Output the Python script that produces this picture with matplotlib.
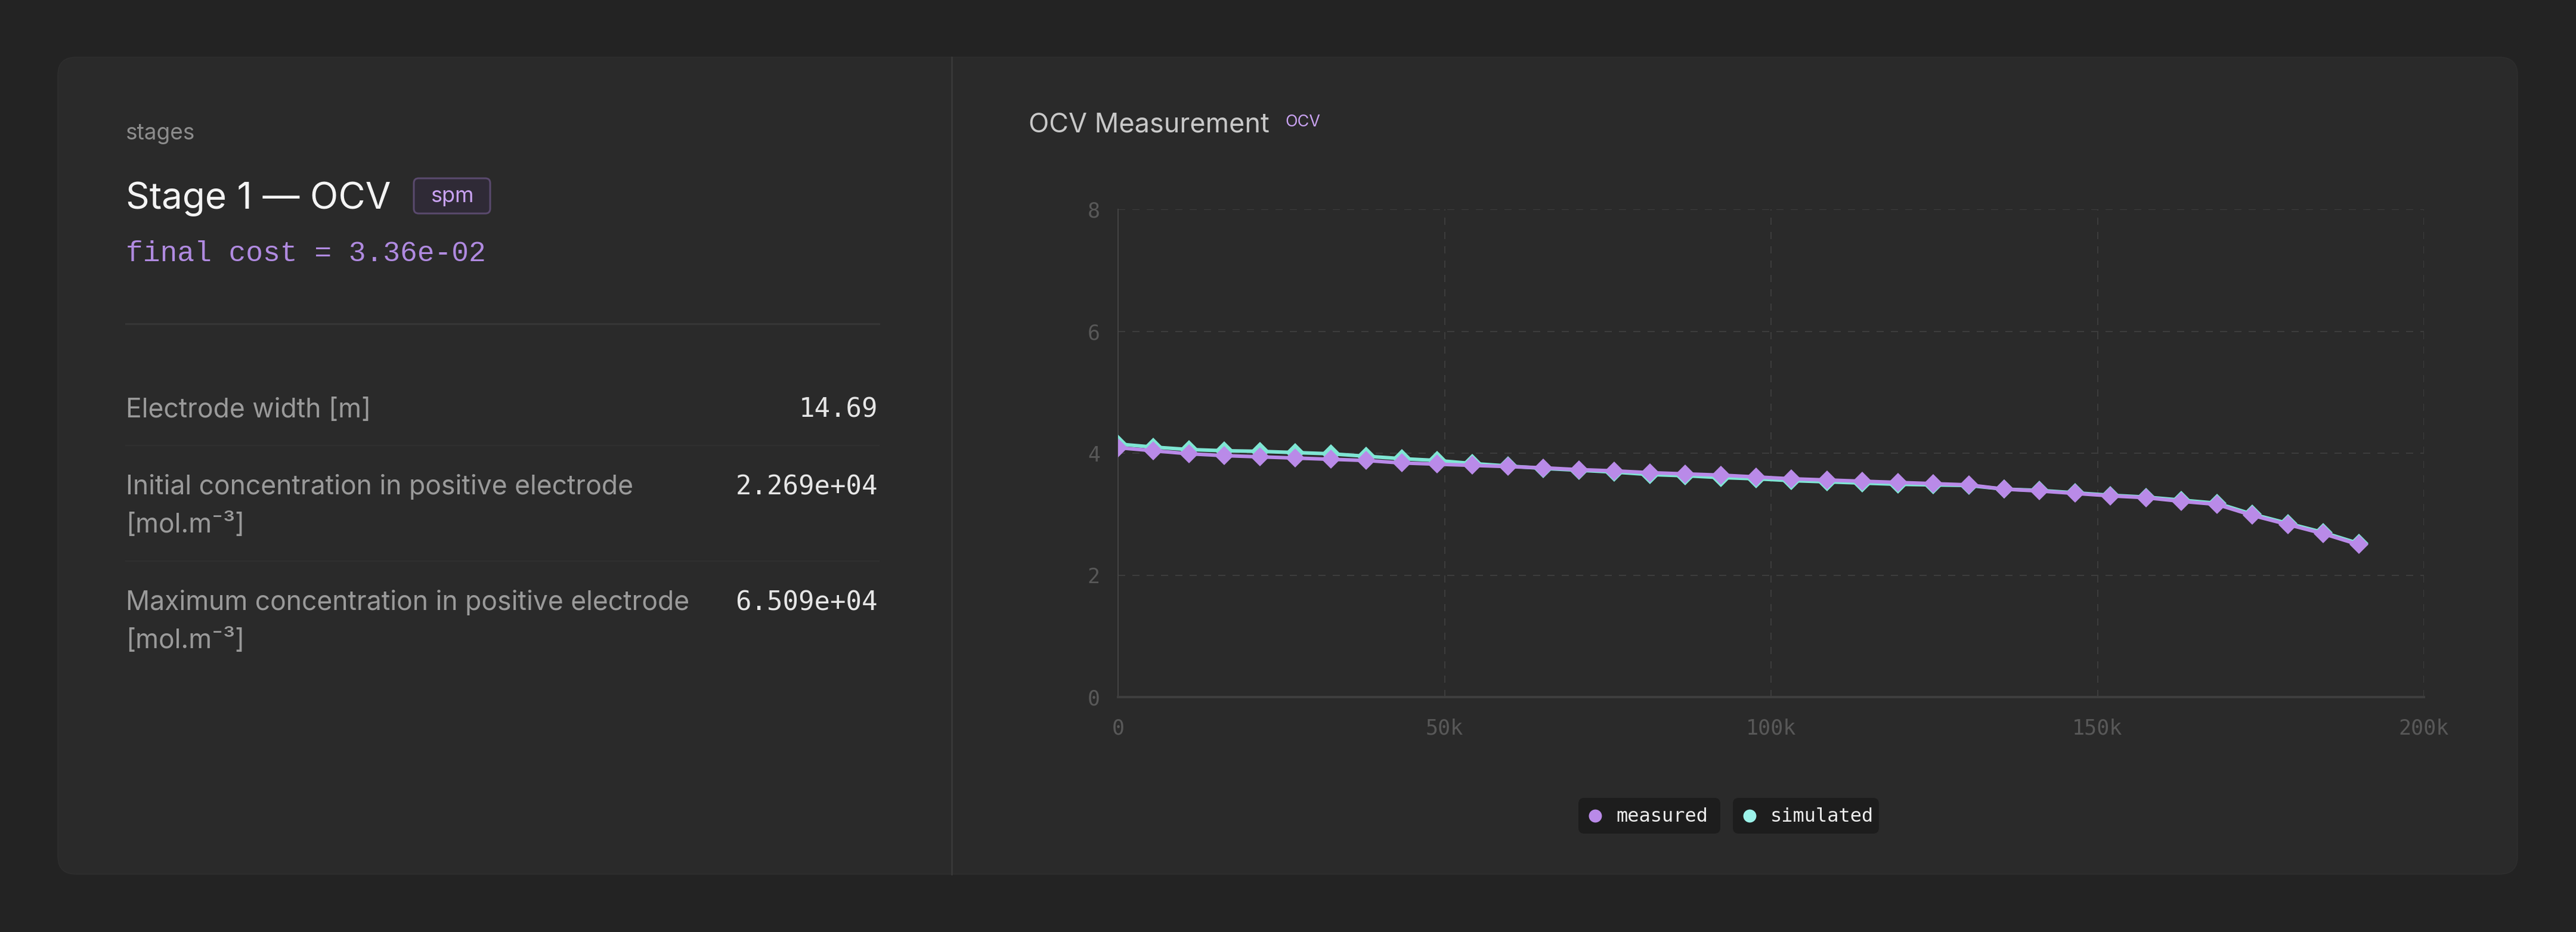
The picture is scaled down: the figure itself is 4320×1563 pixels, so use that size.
import matplotlib
matplotlib.use("Agg")
from matplotlib import pyplot as plt
from matplotlib.patches import FancyBboxPatch

# OCV curve (time in s, voltage in V)
time_s = [0, 5430, 10860, 16290, 21710, 27140, 32570, 38000, 43430, 48860,
          54290, 59710, 65140, 70570, 76000, 81430, 86860, 92290, 97710, 103140,
          108570, 114000, 119430, 124860, 130290, 135710, 141140, 146570, 152000,
          157430, 162860, 168290, 173710, 179140, 184570, 190000]
measured = [4.09, 4.04, 3.99, 3.96, 3.94, 3.92, 3.90, 3.88, 3.84, 3.82,
            3.80, 3.78, 3.76, 3.73, 3.71, 3.68, 3.66, 3.64, 3.61, 3.58,
            3.56, 3.54, 3.52, 3.50, 3.48, 3.41, 3.38, 3.34, 3.30, 3.27,
            3.21, 3.16, 2.98, 2.83, 2.68, 2.50]
simulated = [4.15, 4.10, 4.06, 4.04, 4.03, 4.01, 3.99, 3.95, 3.91, 3.88,
             3.83, 3.79, 3.75, 3.72, 3.69, 3.65, 3.63, 3.60, 3.58, 3.55,
             3.53, 3.51, 3.49, 3.48, 3.47, 3.41, 3.39, 3.35, 3.31, 3.28,
             3.23, 3.18, 3.00, 2.85, 2.70, 2.52]

x_ticks = [0, 50000, 100000, 150000, 200000]
x_ticklabels = ["0", "50k", "100k", "150k", "200k"]
y_ticks = [0, 2, 4, 6, 8]

params = ["Electrode width [m]",
          "Initial concentration in positive electrode\n[mol.m\u207b\u00b3]",
          "Maximum concentration in positive electrode\n[mol.m\u207b\u00b3]"]
param_values = ["14.69", "2.269e+04", "6.509e+04"]

PURPLE = "#b98ae8"
TEAL = "#7fe6d4"
W, H = 4320, 1563
SANS = ["Inter", "DejaVu Sans"]
MONO = "DejaVu Sans Mono"

fig = plt.figure(figsize=(W / 72, H / 72), dpi=72)
fig.patch.set_facecolor("#232323")

# background layer in pixel coords (y down)
bg = fig.add_axes([0, 0, 1, 1])
bg.set_xlim(0, W)
bg.set_ylim(H, 0)
bg.axis("off")

card = FancyBboxPatch((97, 96), 4222 - 97, 1466 - 96,
                      boxstyle="round,pad=0,rounding_size=30",
                      fc="#2a2a2a", ec="#2e2e2e", lw=1.5)
bg.add_patch(card)
bg.plot([1596, 1596], [96, 1466], color="#373737", lw=3)

# left panel
bg.text(211, 234, "stages", color="#8c8c8c", fontsize=37, family=SANS)
bg.text(211, 350, "Stage 1 \u2014 OCV", color="#f4f4f4", fontsize=62, family=SANS)
bg.add_patch(FancyBboxPatch((694, 299), 128, 59, boxstyle="round,pad=0,rounding_size=8",
                            fc="#2f2a36", ec="#5a4a6e", lw=3))
bg.text(758, 330, "spm", color="#c9a2f2", fontsize=36, family=SANS, ha="center", va="center")
bg.text(211, 438, "final cost = 3.36e-02", color="#b08ae0", fontsize=48,
        family="Liberation Mono")
bg.plot([211, 1474], [543, 543], color="#363636", lw=3)

row_y = [700, 829, 1023]
for i, (label, val) in enumerate(zip(params, param_values)):
    lines = label.split("\n")
    for j, ln in enumerate(lines):
        bg.text(211, row_y[i] + j * 64, ln, color="#9a9a9a", fontsize=44.5, family=SANS)
    bg.text(1472, row_y[i], val, color="#e6e6e6", fontsize=44, family=MONO, ha="right")
for y in [747, 941]:
    bg.plot([211, 1474], [y, y], color="#2f2f2f", lw=2)

# chart title
bg.text(1725, 221, "OCV Measurement", color="#c8c8c8", fontsize=45, family=SANS)
bg.text(2155, 212, "OCV", color="#c9a2f2", fontsize=27, family=SANS)

# legend chips
chips = [(2647, 2885, PURPLE, "measured"), (2906, 3151, "#9cf3ea", "simulated")]
for x0, x1, col, lab in chips:
    bg.add_patch(FancyBboxPatch((x0, 1338), x1 - x0, 60, boxstyle="round,pad=0,rounding_size=10",
                                fc="#1d1d1d", ec="none"))
    bg.scatter([x0 + 28], [1368], s=480, color=col, lw=0)
    bg.text(x0 + 63, 1369, lab, color="#ececec", fontsize=32, family=MONO, va="center")

# chart
ax = fig.add_axes([1875 / W, (H - 1169) / H, 2190 / W, (1169 - 351) / H])
ax.set_facecolor("none")
ax.plot(time_s, simulated, color=TEAL, lw=6, marker="D", ms=22, mew=0, zorder=3)
ax.plot(time_s, measured, color=PURPLE, lw=6, marker="D", ms=22, mew=0, zorder=4)
ax.set_xlim(0, 200000)
ax.set_ylim(0, 8)
ax.set_xticks(x_ticks)
ax.set_xticklabels(x_ticklabels)
ax.set_yticks(y_ticks)
ax.grid(True, color="#3c3c3c", lw=2, ls=(0, (6, 6)))
ax.tick_params(length=0, pad=30, labelsize=35, labelcolor="#585858")
ax.tick_params(axis="x", pad=35)
for lab in ax.get_xticklabels() + ax.get_yticklabels():
    lab.set_family(MONO)
for s in ["top", "right"]:
    ax.spines[s].set_visible(False)
ax.spines["left"].set_color("#444444")
ax.spines["left"].set_linewidth(2)
ax.spines["bottom"].set_color("#3e3e3e")
ax.spines["bottom"].set_linewidth(4)

fig.savefig("out.png", dpi=72, facecolor=fig.get_facecolor())
